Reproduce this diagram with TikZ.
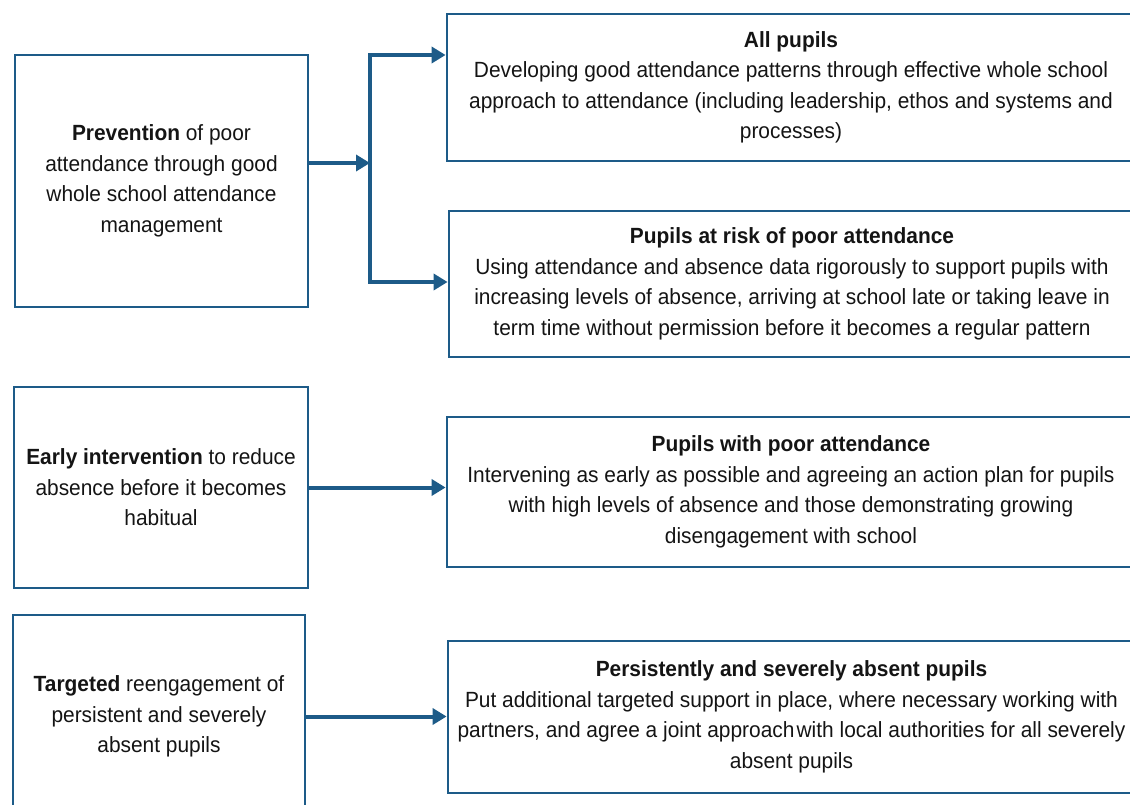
\documentclass[tikz,border=0pt]{standalone}
\usepackage{fontspec}
\setmainfont[FakeStretch=0.95]{Liberation Sans}
\usepackage{xcolor}
\usetikzlibrary{arrows.meta,positioning}
\definecolor{linkblue}{HTML}{1D5B88}
\definecolor{inkgrey}{HTML}{141414}

\begin{document}
\begin{tikzpicture}[x=1pt, y=-1pt, >={Triangle[length=14pt,width=16pt]},
    box/.style={draw=linkblue, line width=2.8pt, align=center, text=inkgrey,
                font=\fontsize{22}{30.5}\selectfont, inner sep=0pt},
    link/.style={->, draw=linkblue, line width=4pt}]
    \clip (0,0) rectangle (1130,805);

    \node[box, minimum width=293pt, minimum height=252pt] (prevention) at (161.5,181)
        {\textbf{Prevention} of poor\\attendance through good\\whole school attendance\\management};
    \node[box, minimum width=294pt, minimum height=201pt] (early) at (161,487.5)
        {\textbf{Early intervention} to reduce\\absence before it becomes\\habitual};
    \node[box, minimum width=292pt, minimum height=203pt] (targeted) at (159,716.5)
        {\textbf{Targeted} reengagement of\\persistent and severely\\absent pupils};

    \node[box, minimum width=688pt, minimum height=147pt] (allpupils) at (791,87.5)
        {\textbf{All pupils}\\Developing good attendance patterns through effective whole school\\approach to attendance (including leadership, ethos and systems and\\processes)};
    \node[box, minimum width=686pt, minimum height=146pt] (atrisk) at (792,284)
        {\textbf{Pupils at risk of poor attendance}\\Using attendance and absence data rigorously to support pupils with\\increasing levels of absence, arriving at school late or taking leave in\\term time without permission before it becomes a regular pattern};
    \node[box, minimum width=688pt, minimum height=150pt] (poor) at (791,492)
        {\textbf{Pupils with poor attendance}\\Intervening as early as possible and agreeing an action plan for pupils\\with high levels of absence and those demonstrating growing\\disengagement with school};
    \node[box, minimum width=687pt, minimum height=152pt] (severe) at (791.5,717)
        {\textbf{Persistently and severely absent pupils}\\Put additional targeted support in place, where necessary working with\\partners, and agree a joint approach\hspace{0.1em}with local authorities for all severely\\absent pupils};

    \coordinate (split) at (370,163);
    \coordinate (topbend) at (370,55);
    \coordinate (botbend) at (370,282);

    \draw[link] (split -| prevention.east) -- (split);
    \draw[link] (botbend) -- (topbend) -- (topbend -| allpupils.west);
    \draw[link] (topbend) -- (botbend) -- (botbend -| atrisk.west);
    \draw[link] (early.east) -- (early.east -| poor.west);
    \draw[link] (targeted.east) -- (targeted.east -| severe.west);
\end{tikzpicture}
\end{document}
